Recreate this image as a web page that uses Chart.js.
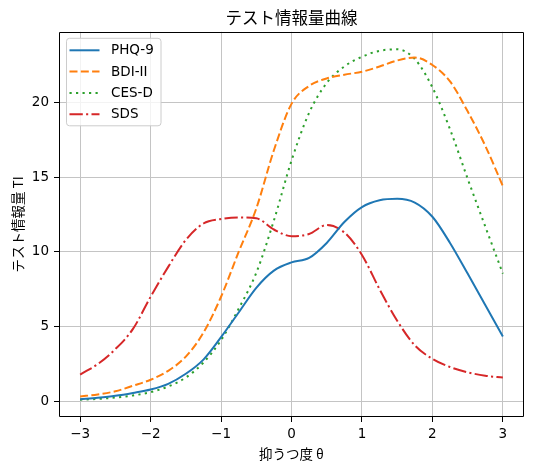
<!DOCTYPE html>
<html><head><meta charset="utf-8">
<script src="https://cdn.jsdelivr.net/npm/chart.js@4.4.0/dist/chart.umd.min.js"></script>
<style>html,body{margin:0;padding:0;background:#fff}</style>
</head><body>
<canvas id="c" width="533" height="472" style="width:533px;height:472px;display:block"></canvas>
<script>
const theta = [-3,-2.75,-2.5,-2.25,-2,-1.75,-1.5,-1.25,-1,-0.75,-0.5,-0.25,0,0.25,0.5,0.75,1,1.25,1.5,1.75,2,2.25,2.5,2.75,3];
const phq9 = [0.15,0.25,0.38,0.57,0.80,1.18,1.85,2.8,4.3,5.95,7.6,8.75,9.3,9.6,10.6,12.0,13.0,13.45,13.55,13.3,12.35,10.6,8.55,6.45,4.35];
const bdi2 = [0.33,0.47,0.68,1.05,1.45,2.05,3.0,4.6,7.0,10.0,12.9,16.8,19.9,21.1,21.6,21.85,22.05,22.4,22.8,23.0,22.5,21.4,19.4,17.1,14.4];
const cesd = [0.12,0.17,0.26,0.4,0.62,1.0,1.6,2.6,4.1,6.2,8.6,12.1,16.1,19.3,21.3,22.4,23.05,23.45,23.55,22.9,21.0,18.2,14.9,11.7,8.55];
const sds  = [1.8,2.5,3.5,4.85,7.0,9.0,10.8,11.9,12.2,12.3,12.25,11.5,11.05,11.2,11.8,11.3,9.8,7.5,5.4,3.75,2.85,2.3,1.95,1.72,1.6];
const seriesNames = ['PHQ-9','BDI-II','CES-D','SDS'];
const xTicks = [-3,-2,-1,0,1,2,3];
const yTicks = [0,5,10,15,20];
const chartTitle = 'テスト情報量曲線';
const xTitle = '抑うつ度 θ';
const yTitle = 'テスト情報量 TI';

const FONT = "'DejaVu Sans','Noto Sans CJK JP',sans-serif";
const JFONT = "'Noto Sans CJK JP','DejaVu Sans',sans-serif";
const pts = arr => theta.map((t,i)=>({x:t,y:arr[i]}));
const fmt = v => (v<0 ? '\u2212'+Math.abs(v) : String(v));

const frame = {
  id:'axesFrame',
  afterDraw(chart){
    const ctx = chart.ctx, a = chart.chartArea;
    const l=Math.round(a.left)+0.5, r=Math.round(a.right)-0.5, t=Math.round(a.top)+0.5, b=Math.round(a.bottom)-0.5;
    ctx.save(); ctx.setLineDash([]); ctx.strokeStyle='#000'; ctx.lineWidth=1;
    ctx.beginPath();
    ctx.moveTo(l,t); ctx.lineTo(r,t); ctx.lineTo(r,b); ctx.lineTo(l,b); ctx.closePath();
    ctx.stroke();
    ctx.restore();
  }
};
const legendBox = {
  id:'legendBox',
  afterDraw(chart){
    const ctx = chart.ctx, a = chart.chartArea;
    const x0=a.left+7, y0=a.top+6, w=94.5, h=87.5;
    ctx.save();
    ctx.beginPath(); ctx.roundRect(x0+0.5,y0+0.5,w,h,3);
    ctx.fillStyle='rgba(255,255,255,0.8)'; ctx.fill();
    ctx.strokeStyle='#cccccc'; ctx.lineWidth=1; ctx.stroke();
    chart.data.datasets.forEach((ds,i)=>{
      const cy=y0+12.5+i*21.3;
      ctx.beginPath(); ctx.setLineDash(ds.borderDash||[]); ctx.lineCap='butt';
      ctx.strokeStyle=ds.borderColor; ctx.lineWidth=ds.borderWidth;
      ctx.moveTo(x0+3.5,cy); ctx.lineTo(x0+33.5,cy); ctx.stroke();
      ctx.setLineDash([]);
      ctx.fillStyle='#000'; ctx.font='13.5px '+FONT; ctx.textBaseline='middle'; ctx.textAlign='left';
      ctx.fillText(ds.label, x0+45, cy+0.5);
    });
    ctx.restore();
  }
};

const colors=['#1f77b4','#ff7f0e','#2ca02c','#d62728'];
const dashes=[[],[8,3.3],[2.2,4.3],[13.3,3.3,2.1,3.3]];
const series=[phq9,bdi2,cesd,sds];

new Chart(document.getElementById('c'),{
  type:'line',
  data:{datasets:series.map((s,i)=>({
    label:seriesNames[i], data:pts(s), borderColor:colors[i], backgroundColor:colors[i],
    borderWidth:2, borderDash:dashes[i], pointRadius:0, fill:false,
    cubicInterpolationMode:'monotone', borderCapStyle:'butt'
  }))},
  options:{
    responsive:false, animation:false, devicePixelRatio:1,
    layout:{padding:{left:0,right:9,top:0,bottom:0}},
    plugins:{
      legend:{display:false}, tooltip:{enabled:false},
      title:{display:true, fullSize:false, text:chartTitle, color:'#000', font:{family:JFONT,size:16.5,weight:'normal',lineHeight:1.2}, padding:{top:8,bottom:4}}
    },
    scales:{
      x:{type:'linear', min:-3.3, max:3.3,
        afterBuildTicks:s=>{s.ticks=xTicks.map(v=>({value:v}));},
        afterFit:s=>{s.height=55;},
        ticks:{callback:v=>fmt(v), color:'#000', font:{family:FONT,size:13.5}, padding:4, maxRotation:0, autoSkip:false},
        grid:{color:'#c4c4c4', lineWidth:1, tickColor:'#000', tickLength:5, tickWidth:1, drawTicks:true},
        border:{display:false},
        title:{display:true,text:xTitle,color:'#000',font:{family:JFONT,size:13.5,lineHeight:1.2},padding:{top:0,bottom:10}}
      },
      y:{type:'linear', min:-1.04, max:24.72,
        afterBuildTicks:s=>{s.ticks=yTicks.map(v=>({value:v}));},
        afterFit:s=>{s.width=59;},
        ticks:{callback:v=>fmt(v), color:'#000', font:{family:FONT,size:13.5}, padding:5, autoSkip:false},
        grid:{color:'#c4c4c4', lineWidth:1, tickColor:'#000', tickLength:5, tickWidth:1, drawTicks:true},
        border:{display:false},
        title:{display:true,text:yTitle,color:'#000',font:{family:JFONT,size:13.5,lineHeight:1.2},padding:{top:10,bottom:0}}
      }
    }
  },
  plugins:[frame,legendBox]
});
</script>
</body></html>
